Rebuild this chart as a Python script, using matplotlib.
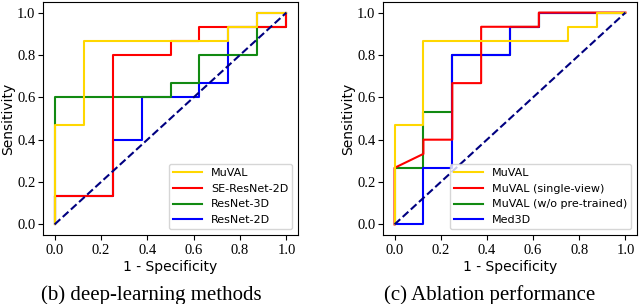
import numpy as np
import matplotlib
matplotlib.use("Agg")
import matplotlib.pyplot as plt

#---------------------- DATA ------------------------#

# (b) deep-learning methods
b_muval_fpr = [0, 0, 0.125, 0.125, 0.75, 0.75, 0.875, 0.875, 1.0]
b_muval_tpr = [0, 0.467, 0.467, 0.867, 0.867, 0.933, 0.933, 1.0, 1.0]
b_se_fpr = [0, 0, 0.25, 0.25, 0.5, 0.5, 0.625, 0.625, 1.0, 1.0]
b_se_tpr = [0, 0.133, 0.133, 0.8, 0.8, 0.867, 0.867, 0.933, 0.933, 1.0]
b_r3d_fpr = [0, 0, 0.5, 0.5, 0.625, 0.625, 0.875, 0.875, 1.0, 1.0]
b_r3d_tpr = [0, 0.6, 0.6, 0.667, 0.667, 0.8, 0.8, 0.933, 0.933, 1.0]
b_r2d_fpr = [0, 0, 0.25, 0.25, 0.375, 0.375, 0.625, 0.625, 0.75, 0.75, 0.875, 0.875, 1.0]
b_r2d_tpr = [0, 0.133, 0.133, 0.4, 0.4, 0.6, 0.6, 0.667, 0.667, 0.933, 0.933, 1.0, 1.0]

# (c) ablation
c_muval_fpr = [0, 0, 0.125, 0.125, 0.75, 0.75, 0.875, 0.875, 1.0]
c_muval_tpr = [0, 0.467, 0.467, 0.867, 0.867, 0.933, 0.933, 1.0, 1.0]
c_single_fpr = [0, 0, 0.125, 0.125, 0.25, 0.25, 0.375, 0.375, 0.625, 0.625, 1.0]
c_single_tpr = [0, 0.267, 0.333, 0.4, 0.4, 0.667, 0.667, 0.933, 0.933, 1.0, 1.0]
c_nopre_fpr = [0, 0, 0.125, 0.125, 0.25, 0.25, 0.5, 0.5, 0.625, 0.625, 1.0]
c_nopre_tpr = [0, 0.267, 0.267, 0.533, 0.533, 0.8, 0.8, 0.933, 0.933, 1.0, 1.0]
c_med3d_fpr = [0, 0.125, 0.125, 0.25, 0.25, 0.5, 0.5, 0.625, 0.625, 1.0]
c_med3d_tpr = [0, 0, 0.267, 0.267, 0.8, 0.8, 0.933, 0.933, 1.0, 1.0]

ticks = [0.0, 0.2, 0.4, 0.6, 0.8, 1.0]

YELLOW = "#FFD700"
RED = "#FF0000"
GREEN = "#128A12"
BLUE = "#0000FF"

#---------------------- PLOT ------------------------#

fig = plt.figure(figsize=(6.4, 3.04), dpi=100)

def setup(ax):
    ax.plot([0, 1], [0, 1], color="navy", lw=1.5, linestyle="--", zorder=5)
    ax.set_xlim(-0.05, 1.05)
    ax.set_ylim(-0.05, 1.05)
    ax.set_xticks(ticks)
    ax.set_yticks(ticks)
    ax.set_xticklabels(["%.1f" % t for t in ticks], family="Liberation Serif", fontsize=10.5)
    ax.set_yticklabels(["%.1f" % t for t in ticks], family="Liberation Serif", fontsize=10.5)
    ax.set_xlabel("1 - Specificity", fontsize=10, labelpad=2)
    ax.set_ylabel("Sensitivity", fontsize=10, labelpad=1)
    ax.tick_params(length=3.5, width=0.8, pad=2)
    ax.tick_params(axis="x", pad=3)

# (b)
ax1 = fig.add_axes([43/640, 1-235/304, 255/640, 233/304])
l4, = ax1.plot(b_r2d_fpr, b_r2d_tpr, color=BLUE, lw=1.5, label="ResNet-2D")
l3, = ax1.plot(b_r3d_fpr, b_r3d_tpr, color=GREEN, lw=1.5, label="ResNet-3D")
l2, = ax1.plot(b_se_fpr, b_se_tpr, color=RED, lw=1.5, label="SE-ResNet-2D")
l1, = ax1.plot(b_muval_fpr, b_muval_tpr, color=YELLOW, lw=1.5, label="MuVAL")
setup(ax1)
ax1.legend(handles=[l1, l2, l3, l4], loc="lower right", fontsize=8, handlelength=2.6, fancybox=True)

# (c)
ax2 = fig.add_axes([383/640, 1-235/304, 254/640, 233/304])
m3, = ax2.plot(c_nopre_fpr, c_nopre_tpr, color=GREEN, lw=1.5, label="MuVAL (w/o pre-trained)")
m4, = ax2.plot(c_med3d_fpr, c_med3d_tpr, color=BLUE, lw=1.5, label="Med3D")
m2, = ax2.plot(c_single_fpr, c_single_tpr, color=RED, lw=1.5, label="MuVAL (single-view)")
m1, = ax2.plot(c_muval_fpr, c_muval_tpr, color=YELLOW, lw=1.5, label="MuVAL")
setup(ax2)
ax2.legend(handles=[m1, m2, m3, m4], loc="lower right", fontsize=8, handlelength=2.6, fancybox=True)

# captions
fig.text(151/640, 4/304, "(b) deep-learning methods", ha="center", va="baseline",
         family="Liberation Serif", fontsize=15)
fig.text(490/640, 4/304, "(c) Ablation performance", ha="center", va="baseline",
         family="Liberation Serif", fontsize=15)

fig.savefig("out.png", dpi=100)
